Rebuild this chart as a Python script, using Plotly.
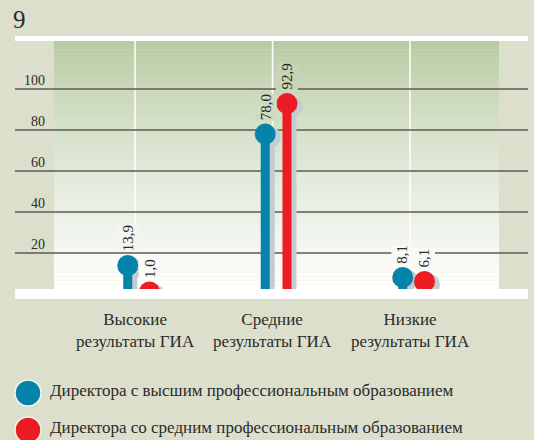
import plotly.graph_objects as go

# ---------------- data ----------------
categories = ["Высокие<br>результаты ГИА", "Средние<br>результаты ГИА", "Низкие<br>результаты ГИА"]
series_names = ["Директора с высшим профессиональным образованием",
                "Директора со средним профессиональным образованием"]
higher_vals = [13.9, 78.0, 8.1]
middle_vals = [1.0, 92.9, 6.1]
higher_labels = ["13,9", "78,0", "8,1"]
middle_labels = ["1,0", "92,9", "6,1"]
tick_vals = [20, 40, 60, 80, 100]
tick_text = ["20", "40", "60", "80", "100"]
chart_number = "9"

# ---------------- style ----------------
BG = "#dcdfcb"
BLUE = "#0583ab"
RED = "#ed1c24"
SHADOW = "#c3ccd0"
GRID = "#5b5b55"
TXT = "#2b2b2b"
FONT = "Liberation Serif"

W, H = 534, 440
L, R, T, B = 15, 6, 36, 141
XR = [-0.873, 2.858]
YR = [-2.44, 125.85]
px_x = (W - L - R) / (XR[1] - XR[0])
px_y = (H - T - B) / (YR[1] - YR[0])

off_blue = -0.053
off_red = 0.105
sh_dx = 5 / px_x
sh_dy = -3 / px_y

fig = go.Figure()

shapes = []
# green gradient area
g_x0, g_x1 = -0.589, 2.647
g_y0, g_y1 = 2.44, 123.4
top = (0xb5, 0xc9, 0xa0)
n = 60
for i in range(n):
    f = ((i + 0.5) / n) ** 0.8  # fraction from top
    c = tuple(int(round(top[k] + (255 - top[k]) * f)) for k in range(3))
    ya = g_y1 - (g_y1 - g_y0) * i / n
    yb = g_y1 - (g_y1 - g_y0) * (i + 1) / n
    shapes.append(dict(type="rect", xref="x", yref="y", x0=g_x0, x1=g_x1, y0=yb, y1=ya + 0.05,
                       fillcolor="rgb(%d,%d,%d)" % c, line=dict(width=0), layer="below"))


def grad_color(yv):
    f = (g_y1 - yv) / (g_y1 - g_y0)
    f = min(max(f, 0), 1) ** 0.8
    c = tuple(int(round(top[k] + (255 - top[k]) * f)) for k in range(3))
    return "rgb(%d,%d,%d)" % c


# white vertical lines at category centres
for i in range(len(categories)):
    shapes.append(dict(type="line", xref="x", yref="y", x0=i, x1=i, y0=g_y0, y1=g_y1,
                       line=dict(color="white", width=1.5), layer="below"))
# gridlines
for v in tick_vals:
    shapes.append(dict(type="line", xref="x", yref="y", x0=XR[0], x1=XR[1], y0=v, y1=v,
                       line=dict(color=GRID, width=1.5), layer="below"))
# white top line
shapes.append(dict(type="rect", xref="x", yref="y", x0=XR[0], x1=XR[1], y0=g_y1, y1=YR[1],
                   fillcolor="white", line=dict(width=0), layer="below"))
# white bottom band (above traces)
shapes.append(dict(type="rect", xref="x", yref="y", x0=XR[0], x1=XR[1], y0=YR[0], y1=g_y0,
                   fillcolor="white", line=dict(width=0), layer="above"))


# lollipops
def add_lollipop(vals, off, color):
    for i, v in enumerate(vals):
        x = i + off
        fig.add_trace(go.Scatter(x=[x + sh_dx, x + sh_dx], y=[0, v + sh_dy], mode="lines",
                                 line=dict(color=SHADOW, width=9), hoverinfo="skip", showlegend=False))
        fig.add_trace(go.Scatter(x=[x + sh_dx], y=[v + sh_dy], mode="markers",
                                 marker=dict(color=SHADOW, size=21, line=dict(width=0)),
                                 hoverinfo="skip", showlegend=False))
    for i, v in enumerate(vals):
        x = i + off
        fig.add_trace(go.Scatter(x=[x, x], y=[0, v], mode="lines",
                                 line=dict(color=color, width=9), hoverinfo="skip", showlegend=False))
        fig.add_trace(go.Scatter(x=[x], y=[v], mode="markers",
                                 marker=dict(color=color, size=21, line=dict(width=0)),
                                 showlegend=False))


add_lollipop(higher_vals, off_blue, BLUE)
add_lollipop(middle_vals, off_red, RED)

annotations = []
# value labels
for vals, labs, off in [(higher_vals, higher_labels, off_blue), (middle_vals, middle_labels, off_red)]:
    for i, (v, t) in enumerate(zip(vals, labs)):
        annotations.append(dict(x=i + off, y=v, xref="x", yref="y", text=t, showarrow=False,
                                textangle=-90, xanchor="center", yanchor="bottom", yshift=13,
                                font=dict(family=FONT, size=15, color=TXT),
                                bgcolor=grad_color(v + 12), height=21, borderpad=0))
# y tick labels (sit above the lines)
for v, t in zip(tick_vals, tick_text):
    annotations.append(dict(x=(47 - L) / (W - L - R), y=v, xref="paper", yref="y", text=t,
                            showarrow=False, xanchor="right", yanchor="bottom", yshift=-1,
                            font=dict(family=FONT, size=14, color=TXT)))
# category labels
for i, c in enumerate(categories):
    annotations.append(dict(x=i, y=-0.035, xref="x", yref="paper", text=c, showarrow=False,
                            xanchor="center", yanchor="top",
                            font=dict(family=FONT, size=17, color=TXT)))
# chart number
annotations.append(dict(x=(11 - L) / (W - L - R), y=1 + (T - 4) / (H - T - B),
                        xref="paper", yref="paper", text=chart_number, showarrow=False,
                        xanchor="left", yanchor="top", font=dict(family=FONT, size=25, color=TXT)))
# legend
leg_y = [393, 430]
for name, col, yy in zip(series_names, [BLUE, RED], leg_y):
    yp = (H - B - yy) / (H - T - B)
    yt = (H - B - (yy - 2)) / (H - T - B)
    xp = (28 - L) / (W - L - R)
    shapes.append(dict(type="circle", xref="paper", yref="paper", xsizemode="pixel", ysizemode="pixel",
                       xanchor=xp, yanchor=yp, x0=-13, x1=13, y0=-13, y1=13,
                       fillcolor=col, line=dict(color="#f4f4ee", width=1.5)))
    annotations.append(dict(x=(48 - L) / (W - L - R), y=yt, xref="paper", yref="paper", text=name,
                            showarrow=False, xanchor="left", yanchor="middle",
                            font=dict(family=FONT, size=17, color=TXT)))

fig.update_layout(
    width=W, height=H,
    margin=dict(l=L, r=R, t=T, b=B),
    paper_bgcolor=BG, plot_bgcolor=BG,
    xaxis=dict(range=XR, showgrid=False, zeroline=False, showticklabels=False, fixedrange=True),
    yaxis=dict(range=YR, showgrid=False, zeroline=False, showticklabels=False, fixedrange=True),
    shapes=shapes, annotations=annotations, showlegend=False,
)

fig.write_html("out.html", config={"displayModeBar": False},
               post_script="document.body.style.margin='0';document.body.style.overflow='hidden';")
